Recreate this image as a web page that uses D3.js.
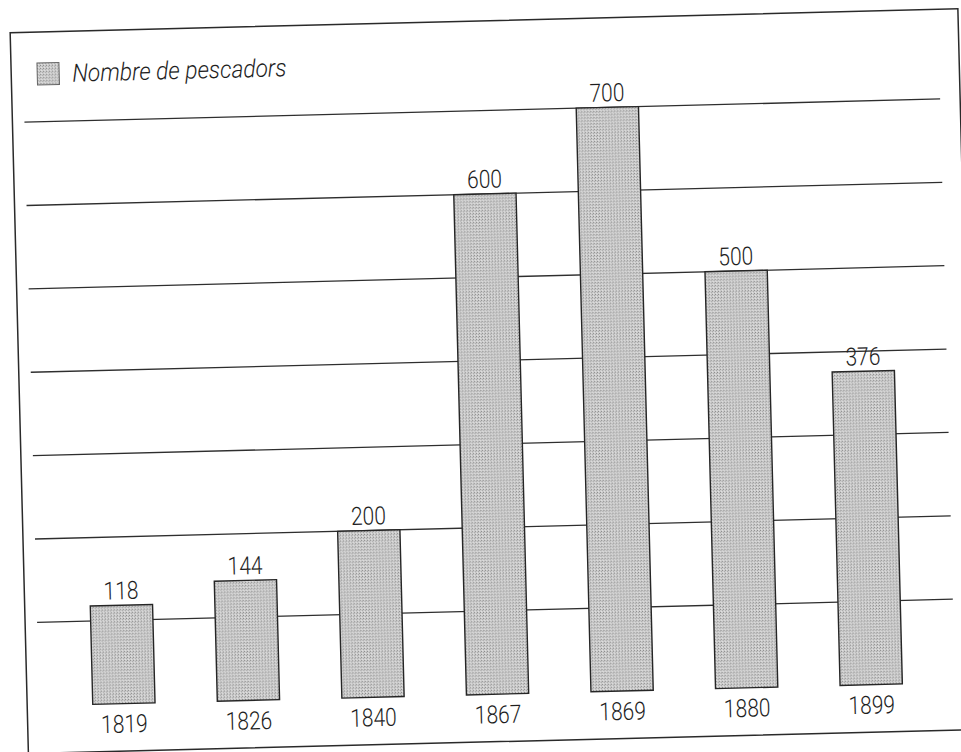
<!DOCTYPE html>
<html>
<head>
<meta charset="utf-8">
<script src="https://cdn.jsdelivr.net/npm/d3@7"></script>
<style>
	html, body { margin: 0; padding: 0; background: #fff; }
	svg text { font-family: Roboto, "Liberation Sans", sans-serif; font-weight: 300; fill: #1e1e1e; }
</style>
</head>
<body>
<svg id="chart" width="961" height="752"></svg>
<script>
var years = ["1819", "1826", "1840", "1867", "1869", "1880", "1899"];
var pescadors = [118, 144, 200, 600, 700, 500, 376];
var gridValues = [100, 200, 300, 400, 500, 600, 700];
var legendLabel = "Nombre de pescadors";

var chart = {
	narrow: 0.84,

	init: function() {
		this.svg = d3.select("#chart");
		this.defs();
		// the scan is a bit tilted, so the whole page is turned
		this.g = this.svg.append("g").attr("transform", "rotate(-1.45, 480, 376)");
		this.scales();
		this.frame();
		this.grid();
		this.bars();
		this.legend();
	},

	defs: function() {
		var pat = this.svg.append("defs").append("pattern")
			.attr("id", "stipple")
			.attr("width", 3)
			.attr("height", 3)
			.attr("patternUnits", "userSpaceOnUse");
		pat.append("rect").attr("width", 3).attr("height", 3).attr("fill", "#cdcdcd");
		pat.append("rect").attr("x", 0).attr("y", 0).attr("width", 1).attr("height", 1).attr("fill", "#8a8a8a");
		pat.append("rect").attr("x", 2).attr("y", 1).attr("width", 1).attr("height", 1).attr("fill", "#a6a6a6");
		pat.append("rect").attr("x", 1).attr("y", 2).attr("width", 1).attr("height", 1).attr("fill", "#e2e2e2");
	},

	scales: function() {
		this.x = d3.scaleBand()
			.domain(years)
			.range([31, 948])
			.paddingInner(0.5)
			.paddingOuter(0.43);
		this.y = d3.scaleLinear()
			.domain([0, 700])
			.range([694.5, 110.7]);
	},

	// condensed look: no narrow font installed, so squeeze the text
	place: function(x, y, k) {
		return "translate(" + x + "," + y + ") scale(" + (k || this.narrow) + ",1)";
	},

	frame: function() {
		this.g.append("rect")
			.attr("x", 19)
			.attr("y", 21)
			.attr("width", 948)
			.attr("height", 721)
			.attr("fill", "none")
			.attr("stroke", "#2a2a2a")
			.attr("stroke-width", 1.5);
	},

	grid: function() {
		var self = this;
		this.g.selectAll("line.grid")
			.data(gridValues)
			.enter()
			.append("line")
			.attr("class", "grid")
			.attr("x1", 31)
			.attr("x2", 947)
			.attr("y1", function(d) { return self.y(d); })
			.attr("y2", function(d) { return self.y(d); })
			.attr("stroke", "#2e2e2e")
			.attr("stroke-width", 1.3);
	},

	bars: function() {
		var self = this;
		var data = years.map(function(d, i) {
			return { year: d, value: pescadors[i] };
		});
		var mid = function(d) { return self.x(d.year) + self.x.bandwidth() / 2; };

		this.g.selectAll("rect.bar")
			.data(data)
			.enter()
			.append("rect")
			.attr("class", "bar")
			.attr("x", function(d) { return self.x(d.year); })
			.attr("y", function(d) { return self.y(d.value); })
			.attr("width", this.x.bandwidth())
			.attr("height", function(d) { return self.y(0) - self.y(d.value); })
			.attr("fill", "url(#stipple)")
			.attr("stroke", "#262626")
			.attr("stroke-width", 1.4);

		this.g.selectAll("text.val")
			.data(data)
			.enter()
			.append("text")
			.attr("class", "val")
			.attr("transform", function(d) { return self.place(mid(d), self.y(d.value) - 6); })
			.attr("text-anchor", "middle")
			.attr("font-size", "25px")
			.text(function(d) { return d.value; });

		this.g.selectAll("text.year")
			.data(data)
			.enter()
			.append("text")
			.attr("class", "year")
			.attr("transform", function(d) { return self.place(mid(d), self.y(0) + 29); })
			.attr("text-anchor", "middle")
			.attr("font-size", "25px")
			.text(function(d) { return d.year; });
	},

	legend: function() {
		this.g.append("rect")
			.attr("x", 45)
			.attr("y", 52)
			.attr("width", 22)
			.attr("height", 22)
			.attr("fill", "url(#stipple)")
			.attr("stroke", "#666")
			.attr("stroke-width", 1);
		this.g.append("text")
			.attr("transform", this.place(80, 71.5, 0.91))
			.attr("font-size", "25px")
			.attr("font-style", "italic")
			.text(legendLabel);
	}
};

chart.init();
</script>
</body>
</html>
